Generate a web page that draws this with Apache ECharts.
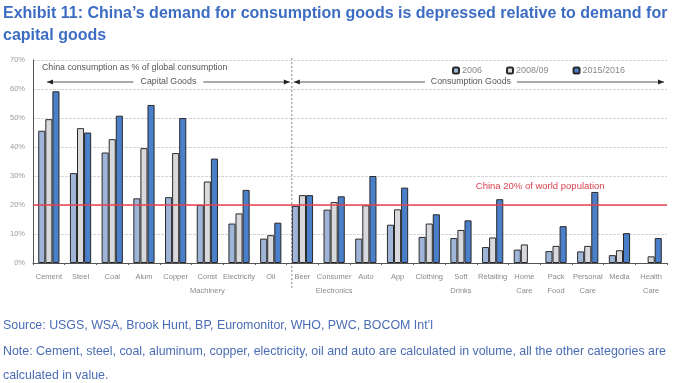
<!DOCTYPE html>
<html><head><meta charset="utf-8">
<script src="https://cdn.jsdelivr.net/npm/echarts@6/dist/echarts.min.js"></script>
<style>html,body{margin:0;padding:0;background:#fff}#c{width:674px;height:383px}</style>
</head><body><div id="c"></div>
<script>
const categories = ['Cement','Steel','Coal','Alum','Copper','Const\nMachinery','Electricity','Oil','Beer','Consumer\nElectronics','Auto','App','Clothing','Soft\nDrinks','Retailing','Home\nCare','Pack\nFood','Personal\nCare','Media','Health\nCare'];
const seriesNames = ['2006','2008/09','2015/2016'];
const v2006 =   [45.6,31.0,38.1,22.3,22.7,20.0,13.6,8.4,19.7,18.4,8.4,13.2,9.0,8.6,5.5,4.6,4.1,4.0,2.7,null];
const v2008 =   [49.6,46.5,42.7,39.6,37.9,28.1,17.1,9.6,23.4,21.0,19.9,18.5,13.6,11.4,8.8,6.4,5.9,5.9,4.4,2.3];
const v2015 =   [59.2,45.0,50.8,54.5,50.0,36.0,25.2,13.9,23.4,23.0,30.0,26.0,16.8,14.7,22.0,null,12.7,24.5,10.3,8.6];
const yTicks = [0,10,20,30,40,50,60,70];
const popLine = 20;
const colors = ['#9fb5d8','#d8d9dc','#4a7fca'];
const textFont = 'Liberation Sans, Arial, sans-serif';

const chart = echarts.init(document.getElementById('c'), null, {renderer:'canvas'});
const gridL = 33, gridR = 7, gridT = 60, gridB = 120;
const barSeries = [v2006, v2008, v2015].map((d,i)=>({
  name: seriesNames[i], type:'bar', data:d, barGap:'0%', barCategoryGap:'33%',
  itemStyle:{color:colors[i], borderColor:'#2a2a2a', borderWidth:1},
  emphasis:{disabled:true}
}));
barSeries[0].markLine = {silent:true, symbol:'none', label:{show:false},
  lineStyle:{color:'#e8424f', width:1.5, type:'solid'}, data:[{yAxis:popLine}]};

chart.setOption({
  animation:false,
  textStyle:{fontFamily:textFont},
  title:{text:'Exhibit 11: China\u2019s demand for consumption goods is depressed relative to demand for\ncapital goods',
    left:-2, top:-2, textStyle:{fontSize:16, fontWeight:'bold', color:'#3d6dc3', lineHeight:22, fontFamily:textFont}},
  legend:{data:seriesNames, left:447, top:61, itemWidth:6, itemHeight:6, itemGap:24,
    textStyle:{fontSize:9, color:'#8a8a8a', padding:[0,0,0,-2]}},
  grid:{left:gridL, right:gridR, top:gridT, bottom:gridB},
  xAxis:{type:'category', data:categories,
    axisLine:{lineStyle:{color:'#555'}},
    axisTick:{show:true, length:2, lineStyle:{color:'#555'}},
    axisLabel:{fontSize:7.5, color:'#8a8a8a', interval:0, lineHeight:14, margin:7}},
  yAxis:{type:'value', min:0, max:70, interval:10,
    axisLine:{show:true, lineStyle:{color:'#555'}},
    axisTick:{show:false},
    axisLabel:{formatter:'{value}%', fontSize:7.5, color:'#9a9a9a', margin:8},
    splitLine:{lineStyle:{color:'#d6d6d6', type:[3,1]}}},
  series:barSeries
});

// annotations anchored to the axes
const px = (cat, v) => chart.convertToPixel({gridIndex:0}, [cat, v]);
const plotRight = 674 - gridR;
const beer = px('Beer', 0), oil = px('Oil', 0);
const catW = beer[0] - oil[0];
const divX = beer[0] - catW*0.335;
const topY = px('Cement', 70)[1];
const arrowY = topY + 22;
const lineCol = '#555';
const annFont = '8.8px ' + textFont;
function arrowHead(x, y, dir){
  return {type:'polygon', shape:{points:[[x,y],[x-dir*6,y-2.5],[x-dir*6,y+2.5]]}, style:{fill:'#222'}};
}
const capLeft = gridL + 14, capRight = divX - 2, conLeft = divX + 2, conRight = plotRight - 3;
const capMid = (capLeft+capRight)/2, conMid = (conLeft+conRight)/2 - 8;
const g = [
  {type:'line', shape:{x1:divX, y1:topY-2, x2:divX, y2:290}, style:{stroke:'#888', lineWidth:1, lineDash:[2,2]}},
  {type:'text', style:{text:'China consumption as % of global consumption', x:gridL+9, y:topY+8, fill:'#555', font:annFont, textVerticalAlign:'middle'}},
  {type:'line', shape:{x1:capLeft, y1:arrowY, x2:capMid-35, y2:arrowY}, style:{stroke:lineCol, lineWidth:1}},
  {type:'line', shape:{x1:capMid+35, y1:arrowY, x2:capRight, y2:arrowY}, style:{stroke:lineCol, lineWidth:1}},
  {type:'text', style:{text:'Capital Goods', x:capMid, y:arrowY, font:annFont, fill:'#555', textAlign:'center', textVerticalAlign:'middle'}},
  arrowHead(capLeft, arrowY, -1), arrowHead(capRight, arrowY, 1),
  {type:'line', shape:{x1:conLeft, y1:arrowY, x2:conMid-46, y2:arrowY}, style:{stroke:lineCol, lineWidth:1}},
  {type:'line', shape:{x1:conMid+46, y1:arrowY, x2:conRight, y2:arrowY}, style:{stroke:lineCol, lineWidth:1}},
  {type:'text', style:{text:'Consumption Goods', x:conMid, y:arrowY, font:annFont, fill:'#555', textAlign:'center', textVerticalAlign:'middle'}},
  arrowHead(conLeft, arrowY, -1), arrowHead(conRight, arrowY, 1),
  {type:'text', style:{text:'China 20% of world population', x:(px('Home\nCare',0)[0]+px('Pack\nFood',0)[0])/2, y:px('Retailing',popLine+6.5)[1], font:'9.5px '+textFont, fill:'#d9434f', textAlign:'center', textVerticalAlign:'middle'}},
  {type:'text', style:{text:'Source: USGS, WSA, Brook Hunt, BP, Euromonitor, WHO, PWC, BOCOM Int\u2019l', x:3, y:326, font:'12.4px '+textFont, fill:'#4a6db5', textVerticalAlign:'middle'}},
  {type:'text', style:{text:'Note: Cement, steel, coal, aluminum, copper, electricity, oil and auto are calculated in volume, all the other categories are', x:3, y:352, font:'12.4px '+textFont, fill:'#4a6db5', textVerticalAlign:'middle'}},
  {type:'text', style:{text:'calculated in value.', x:3, y:376, font:'12.4px '+textFont, fill:'#4a6db5', textVerticalAlign:'middle'}}
];
chart.setOption({graphic:g});
</script></body></html>
